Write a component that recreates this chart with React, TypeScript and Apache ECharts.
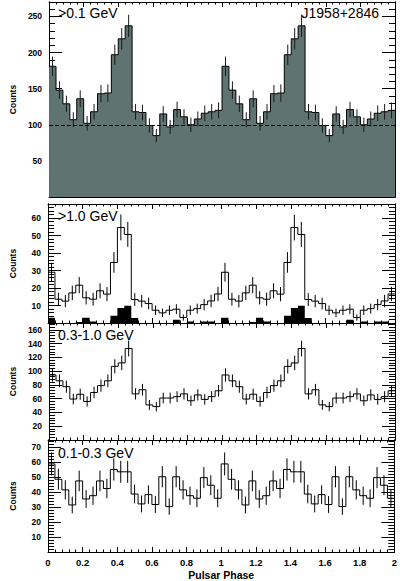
import React, { useEffect, useRef } from 'react';
import * as echarts from 'echarts';

// Phase bins: 25 bins per rotation, two rotations shown (0-2)
const binWidth = 0.04;

// >0.1 GeV counts (one rotation)
const allCycle = [181, 148, 129, 107, 136, 102, 118, 143, 144, 197, 219, 237, 118, 117, 99, 85, 115, 97, 121, 111, 100, 108, 116, 118, 120];
// >1.0 GeV counts (one rotation)
const highCycle = [29, 13.6, 12.5, 17.2, 21.6, 14.4, 13.6, 18.4, 16.5, 34.6, 54.6, 50.6, 13.4, 12.5, 11.1, 7.3, 5.8, 7.3, 7.9, 3.1, 7.3, 8.2, 10.5, 12.6, 16.6];
// >1.0 GeV black histogram (one rotation)
const highBlackCycle = [3, 0, 0, 0, 0.6, 3, 0.8, 0, 0, 4.2, 8.6, 9.9, 2.9, 0, 0, 0, 0, 0, 1.9, 0, 0.8, 0, 0.8, 0.8, 0];
// 0.3-1.0 GeV counts (one rotation)
const midCycle = [94.5, 86, 77.5, 59.5, 66.5, 56, 69, 79, 86, 107, 112, 133, 67, 73, 51, 48.5, 61, 61, 63, 67, 57, 65.5, 59, 63, 71.5];
// 0.1-0.3 GeV counts (one rotation)
const lowCycle = [59, 48.7, 41.6, 31.5, 47.6, 35.5, 37.7, 47.6, 42.5, 55.3, 53.7, 53.7, 38.8, 32.2, 38.4, 31.8, 50.4, 30.4, 50.4, 41.6, 37.7, 36, 49.8, 44.7, 36];

const panelLabels = ['>0.1 GeV', '>1.0 GeV', '0.3-1.0 GeV', '0.1-0.3 GeV'];
const pulsarName = 'J1958+2846';
const baselineLevel = 100;

const twoCycles = (c: number[]) => [...c, ...c];

function stepData(vals: number[]) {
  const pts = vals.map((v, i) => [i * binWidth, v]);
  pts.push([vals.length * binWidth, vals[vals.length - 1]]);
  return pts;
}
function errData(vals: number[]) {
  return vals.map((v, i) => [(i + 0.5) * binWidth, v, Math.sqrt(v)]);
}

const FONT = 'Liberation Sans';

const layout = [
  { top: 2, height: 195, max: 270, major: 50, labelTop: 6 },
  { top: 204, height: 119, max: 68, major: 10, labelTop: 209 },
  { top: 323, height: 117, max: 170, major: 20, labelTop: 328 },
  { top: 440, height: 114, max: 75, major: 10, labelTop: 446 },
];

export default function App() {
  const ref = useRef<HTMLDivElement>(null);
  useEffect(() => {
    if (!ref.current) return;
    const chart = echarts.init(ref.current, undefined, { renderer: 'svg' });

    const grids = layout.map((l) => ({ left: 40, right: 5, top: l.top, height: l.height, containLabel: false }));

    const xAxes: any[] = [];
    const yAxes: any[] = [];
    layout.forEach((l, gi) => {
      const isLast = gi === layout.length - 1;
      ['bottom', 'top'].forEach((pos) => {
        xAxes.push({
          type: 'value', gridIndex: gi, position: pos, min: 0, max: 2, interval: 0.2,
          axisLine: { show: true, onZero: false, lineStyle: { color: '#000', width: 1 } },
          axisTick: { show: true, inside: true, length: 5, lineStyle: { color: '#000', width: 1 } },
          minorTick: { show: true, splitNumber: 5, length: 2.5, lineStyle: { color: '#000', width: 1 } },
          splitLine: { show: false },
          axisLabel: {
            show: isLast && pos === 'bottom', margin: 5, color: '#000', fontFamily: FONT,
            fontWeight: 'bold', fontSize: 9.5,
          },
          name: isLast && pos === 'bottom' ? 'Pulsar Phase' : '',
          nameLocation: 'middle', nameGap: 17,
          nameTextStyle: { color: '#000', fontFamily: FONT, fontWeight: 'bold', fontSize: 10.5 },
        });
      });
      // left major, left minor, right major, right minor
      [['left', true], ['left', false], ['right', true], ['right', false]].forEach(([pos, isMajor]) => {
        yAxes.push({
          type: 'value', gridIndex: gi, position: pos, min: 0, max: l.max,
          interval: isMajor ? l.major : l.major / 5,
          axisLine: { show: true, onZero: false, lineStyle: { color: '#000', width: 1 } },
          axisTick: { show: true, inside: true, length: isMajor ? 13 : 6, lineStyle: { color: '#000', width: 1 } },
          splitLine: { show: false },
          axisLabel: {
            show: pos === 'left' && isMajor, margin: 7, color: '#000', fontFamily: FONT,
            fontWeight: 'bold', fontSize: 8.5, showMaxLabel: false, showMinLabel: false,
            formatter: (v: number) => (v === 0 ? '' : String(v)),
          },
          name: pos === 'left' && isMajor ? 'Counts' : '',
          nameLocation: 'middle', nameGap: 31,
          nameTextStyle: { color: '#000', fontFamily: FONT, fontWeight: 'bold', fontSize: 8.5 },
        });
      });
    });

    const errSeries = (vals: number[], gi: number, color: string) => ({
      type: 'custom', xAxisIndex: gi * 2, yAxisIndex: gi * 4, data: errData(vals), clip: true, z: 5,
      renderItem: (params: any, api: any) => {
        const x = api.value(0), y = api.value(1), e = api.value(2);
        const p1 = api.coord([x, y - e]);
        const p2 = api.coord([x, y + e]);
        return { type: 'line', shape: { x1: p1[0], y1: p1[1], x2: p2[0], y2: p2[1] }, style: { stroke: color, lineWidth: 1 } };
      },
    });

    const stepLine = (vals: number[], gi: number, extra: any = {}) => ({
      type: 'line', step: 'end', xAxisIndex: gi * 2, yAxisIndex: gi * 4, data: stepData(vals),
      showSymbol: false, symbol: 'none', lineStyle: { color: '#000', width: 1 }, z: 4, ...extra,
    });

    const all = twoCycles(allCycle);
    const high = twoCycles(highCycle);
    const highBlack = twoCycles(highBlackCycle);
    const mid = twoCycles(midCycle);
    const low = twoCycles(lowCycle);

    const series: any[] = [
      stepLine(all, 0, {
        areaStyle: { color: '#5f7470', opacity: 1 },
        markLine: {
          silent: true, symbol: 'none', label: { show: false },
          lineStyle: { color: '#000', width: 1, type: [4, 2] },
          data: [{ yAxis: baselineLevel }],
        },
      }),
      errSeries(all, 0, '#1a1a1a'),
      stepLine(highBlack, 1, { lineStyle: { width: 0, color: '#000' }, areaStyle: { color: '#000', opacity: 1 }, z: 3 }),
      stepLine(high, 1),
      errSeries(high, 1, '#000'),
      stepLine(mid, 2),
      errSeries(mid, 2, '#000'),
      stepLine(low, 3),
      errSeries(low, 3, '#000'),
    ];

    const graphics: any[] = layout.map((l, i) => ({
      type: 'text', left: 58, top: l.labelTop, z: 10,
      style: { text: panelLabels[i], fill: '#000', font: `14px ${FONT}` },
    }));
    graphics.push({
      type: 'text', right: 21, top: 6, z: 10,
      style: { text: pulsarName, fill: '#000', font: `14px ${FONT}` },
    });

    chart.setOption({
      animation: false,
      backgroundColor: '#fff',
      grid: grids,
      xAxis: xAxes,
      yAxis: yAxes,
      series,
      graphic: graphics,
    });
    return () => chart.dispose();
  }, []);
  return <div ref={ref} style={{ position: 'absolute', left: 0, top: 0, width: 400, height: 581 }} />;
}
